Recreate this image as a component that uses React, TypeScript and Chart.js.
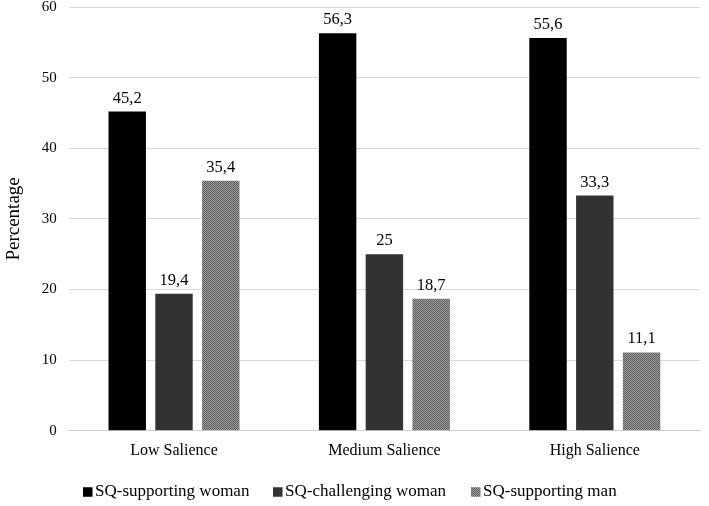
import React, { useEffect, useRef } from "react";
import { Chart, registerables } from "chart.js";

Chart.register(...registerables);

const categories = ["Low Salience", "Medium Salience", "High Salience"];
const seriesNames = ["SQ-supporting woman", "SQ-challenging woman", "SQ-supporting man"];
const supportingWoman = [45.2, 56.3, 55.6];
const challengingWoman = [19.4, 25, 33.3];
const supportingMan = [35.4, 18.7, 11.1];
const yTicks = [0, 10, 20, 30, 40, 50, 60];

const FONT = "'Liberation Serif', 'Times New Roman', serif";
const LEGEND_X = [83, 273, 471];

function makePattern(): CanvasPattern | string {
  const c = document.createElement("canvas");
  c.width = 2;
  c.height = 2;
  const ctx = c.getContext("2d");
  if (!ctx) return "#777";
  ctx.fillStyle = "#a0a0a0";
  ctx.fillRect(0, 0, 2, 2);
  ctx.fillStyle = "#5a5a5a";
  ctx.fillRect(0, 0, 1, 1);
  ctx.fillRect(1, 1, 1, 1);
  const p = ctx.createPattern(c, "repeat");
  return p || "#777";
}

const valueLabels = {
  id: "valueLabels",
  afterDatasetsDraw(chart: any) {
    const ctx = chart.ctx;
    ctx.save();
    ctx.font = `16.5px ${FONT}`;
    ctx.fillStyle = "#000";
    ctx.textAlign = "center";
    ctx.textBaseline = "bottom";
    chart.data.datasets.forEach((ds: any, i: number) => {
      const meta = chart.getDatasetMeta(i);
      meta.data.forEach((bar: any, j: number) => {
        const v = ds.data[j];
        ctx.fillText(String(v).replace(".", ","), bar.x, bar.y - 5);
      });
    });
    ctx.restore();
  },
};

const customLegend = {
  id: "customLegend",
  afterDraw(chart: any) {
    const ctx = chart.ctx;
    ctx.save();
    ctx.font = `17px ${FONT}`;
    ctx.textBaseline = "middle";
    ctx.textAlign = "left";
    const box = 9.5;
    const y = 492;
    chart.data.datasets.forEach((ds: any, i: number) => {
      const x = LEGEND_X[i];
      ctx.fillStyle = ds.backgroundColor;
      ctx.fillRect(x, y - box / 2, box, box);
      ctx.fillStyle = "#000";
      ctx.fillText(ds.label, x + box + 2.5, y);
    });
    ctx.restore();
  },
};

export default function App() {
  const ref = useRef<HTMLCanvasElement>(null);
  useEffect(() => {
    if (!ref.current) return;
    const chart = new Chart(ref.current, {
      type: "bar",
      data: {
        labels: categories,
        datasets: [
          { label: seriesNames[0], data: supportingWoman, backgroundColor: "#000000" },
          { label: seriesNames[1], data: challengingWoman, backgroundColor: "#323232" },
          { label: seriesNames[2], data: supportingMan, backgroundColor: makePattern() as any },
        ],
      },
      options: {
        animation: false,
        responsive: true,
        maintainAspectRatio: false,
        layout: { padding: { top: 0, right: 9, left: 3, bottom: 44 } },
        datasets: { bar: { barPercentage: 0.8, categoryPercentage: 0.667 } },
        scales: {
          x: {
            grid: { display: false },
            border: { display: true, color: "#d0d0d0" },
            ticks: { color: "#000", font: { family: FONT, size: 16 }, padding: 2 },
          },
          y: {
            min: 0,
            max: 60,
            afterBuildTicks: (axis: any) => {
              axis.ticks = yTicks.map((v) => ({ value: v }));
            },
            afterFit: (scale: any) => {
              scale.paddingTop = 7;
              scale.paddingBottom = 7;
            },
            grid: { color: "#d9d9d9", drawTicks: false },
            border: { display: false },
            ticks: { color: "#000", font: { family: FONT, size: 15 }, padding: 12 },
            title: {
              display: true,
              text: "Percentage",
              color: "#000",
              font: { family: FONT, size: 19 },
              padding: { top: 0, bottom: 4 },
            },
          },
        },
        plugins: {
          legend: { display: false },
          tooltip: { enabled: false },
        },
      },
      plugins: [valueLabels, customLegend],
    });
    return () => chart.destroy();
  }, []);
  return (
    <div style={{ position: "fixed", left: 0, top: 0, width: 709, height: 506, background: "#fff" }}>
      <canvas ref={ref} />
    </div>
  );
}
